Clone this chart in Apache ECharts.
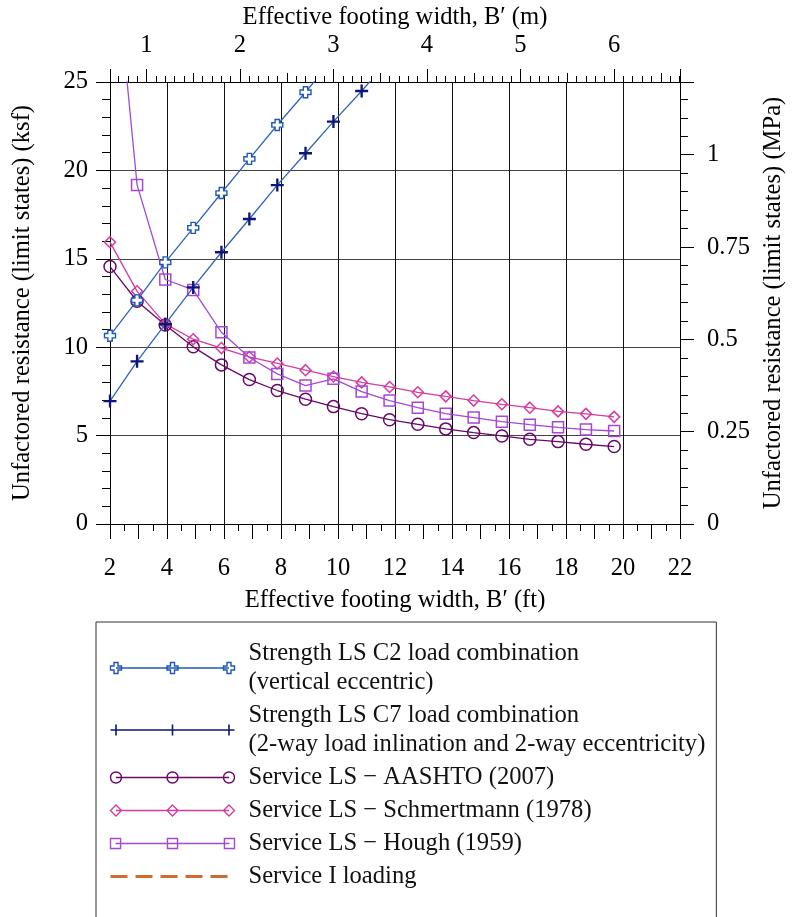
<!DOCTYPE html>
<html><head><meta charset="utf-8">
<script src="https://cdn.jsdelivr.net/npm/echarts@6/dist/echarts.min.js"></script>
<style>html,body{margin:0;padding:0;background:#fff}#c{width:807px;height:917px}</style>
</head><body><div id="c"></div>
<script>
// ---- data ----
// footing widths (ft): first point sits on the 2 ft axis, then ~0.3 m steps
const widthFt = [2.00, 2.95, 3.94, 4.92, 5.91, 6.89, 7.87, 8.86, 9.84, 10.83,
                 11.81, 12.80, 13.78, 14.76, 15.75, 16.73, 17.72, 18.70, 19.69];
const seriesNames = [
  'Strength LS C2 load combination\n(vertical eccentric)',
  'Strength LS C7 load combination\n(2-way load inlination and 2-way eccentricity)',
  'Service LS \u2212 AASHTO (2007)',
  'Service LS \u2212 Schmertmann (1978)',
  'Service LS \u2212 Hough (1959)',
  'Service I loading'
];
const strengthC2 = [10.65, 12.65, 14.80, 16.75, 18.72, 20.65, 22.57, 24.42, 26.35];
const strengthC7 = [6.95, 9.20, 11.30, 13.38, 15.37, 17.25, 19.17, 20.97, 22.76, 24.49, 26.30];
const serviceAashto = [14.56, 12.60, 11.26, 10.02, 9.00, 8.17, 7.55, 7.06, 6.64, 6.24,
                       5.90, 5.64, 5.38, 5.17, 4.98, 4.79, 4.66, 4.51, 4.38];
const serviceSchmertmann = [15.94, 13.16, 11.32, 10.45, 9.95, 9.45, 9.08, 8.70, 8.34, 8.01,
                            7.75, 7.45, 7.22, 6.98, 6.77, 6.58, 6.37, 6.23, 6.06];
const serviceHough = [35.0, 19.18, 13.83, 13.24, 10.84, 9.42, 8.49, 7.83, 8.21, 7.49,
                      6.98, 6.58, 6.24, 6.02, 5.79, 5.62, 5.47, 5.34, 5.26];
const serviceI = [];
// axis ranges
const xRangeFt = [2, 22];
const yRangeKsf = [0, 25];
const FT_PER_M = 3.28084;
const KSF_PER_MPA = 20.8854;

// ---- styling ----
const FONT = "'Liberation Serif', 'Times New Roman', serif";
const FS = 24.6;
const C2_COL = '#1f58b5', C2_LINE = '#2f64ba';
const C7_COL = '#0d1577', C7_LINE = '#2f64ba';
const AA_COL = '#680868';
const SC_COL = '#d43c9e';
const HO_COL = '#a448d8';
const SI_COL = '#d2692e';

function pairs(vals) { return vals.map((v, i) => [widthFt[i], v]); }

const centers = [5.5, 62, 118.5];
function iconPath(mark, filledLine) {
  let p = filledLine ? 'M5.5,4.85H118.5V6.15H5.5Z' : 'M5.5,5.5H118.5';
  centers.forEach(c => { p += mark(c); });
  return 'path://' + p;
}
const gcross = c => `M${c-2},0H${c+2}V3.5H${c+5.5}V7.5H${c+2}V11H${c-2}V7.5H${c-5.5}V3.5H${c-2}Z`;
const plus = c => `M${c-0.8},0H${c+0.8}V4.7H${c+5.5}V6.3H${c+0.8}V11H${c-0.8}V6.3H${c-5.5}V4.7H${c-0.8}Z`;
const circ = c => `M${c-5.5},5.5A5.5,5.5,0,1,0,${c+5.5},5.5A5.5,5.5,0,1,0,${c-5.5},5.5`;
const diam = c => `M${c-5.5},5.5L${c},0L${c+5.5},5.5L${c},11Z`;
const sq = c => `M${c-5},0.5H${c+5}V10.5H${c-5}Z`;

const clear = 'rgba(0,0,0,0)';
const axisLbl = {fontFamily: FONT, fontSize: FS, color: '#000'};
const nameTxt = {fontFamily: FONT, fontSize: FS, color: '#000'};
const blackLine = {lineStyle: {color: '#000', width: 1}};

const chart = echarts.init(document.getElementById('c'), null, {renderer: 'canvas'});
chart.setOption({
  animation: false,
  backgroundColor: '#fff',
  grid: {left: 110, top: 82, width: 570, height: 442, containLabel: false},
  xAxis: [
    { // bottom: labels + grid
      type: 'value', position: 'bottom', min: xRangeFt[0], max: xRangeFt[1], interval: 2,
      axisLine: blackLine, axisTick: {show: false},
      axisLabel: Object.assign({margin: 32}, axisLbl),
      splitLine: {show: true, lineStyle: {color: '#111', width: 1}},
      name: 'Effective footing width, B\u2032 (ft)', nameLocation: 'middle', nameGap: 64,
      nameTextStyle: nameTxt
    },
    { // bottom: ticks every 1 ft, minor every 0.5 ft
      type: 'value', position: 'bottom', min: xRangeFt[0], max: xRangeFt[1], interval: 1,
      axisLine: {show: false}, axisLabel: {show: false}, splitLine: {show: false},
      axisTick: {show: true, length: 15, lineStyle: {color: '#000'}},
      minorTick: {show: true, splitNumber: 2, length: 7, lineStyle: {color: '#000'}}
    },
    { // top: metres
      type: 'value', position: 'top', min: xRangeFt[0] / FT_PER_M, max: xRangeFt[1] / FT_PER_M,
      splitNumber: 6, minInterval: 1, maxInterval: 1,
      axisLine: blackLine,
      axisTick: {show: true, length: 13, lineStyle: {color: '#000'}},
      minorTick: {show: true, splitNumber: 10, length: 6, lineStyle: {color: '#000'}},
      axisLabel: Object.assign({margin: 24, showMinLabel: false, showMaxLabel: false}, axisLbl),
      splitLine: {show: false},
      name: 'Effective footing width, B\u2032 (m)', nameLocation: 'middle', nameGap: 52,
      nameTextStyle: nameTxt
    },
    { // top: half-metre ticks
      type: 'value', position: 'top', min: xRangeFt[0] / FT_PER_M, max: xRangeFt[1] / FT_PER_M,
      splitNumber: 12, minInterval: 0.5, maxInterval: 0.5,
      axisLine: {show: false}, axisLabel: {show: false}, splitLine: {show: false},
      axisTick: {show: true, length: 9, lineStyle: {color: '#000'}}
    }
  ],
  yAxis: [
    {
      type: 'value', position: 'left', min: yRangeKsf[0], max: yRangeKsf[1], interval: 5,
      axisLine: blackLine,
      axisTick: {show: true, length: 14, lineStyle: {color: '#000'}},
      minorTick: {show: true, splitNumber: 5, length: 8, lineStyle: {color: '#000'}},
      axisLabel: Object.assign({margin: 22}, axisLbl),
      splitLine: {show: true, lineStyle: {color: '#444', width: 1}},
      name: 'Unfactored resistance (limit states) (ksf)', nameLocation: 'middle', nameGap: 75,
      nameTextStyle: nameTxt
    },
    {
      type: 'value', position: 'right', min: yRangeKsf[0] / KSF_PER_MPA, max: yRangeKsf[1] / KSF_PER_MPA,
      interval: 0.25,
      axisLine: blackLine,
      axisTick: {show: true, length: 14, lineStyle: {color: '#000'}},
      minorTick: {show: true, splitNumber: 5, length: 8, lineStyle: {color: '#000'}},
      axisLabel: Object.assign({margin: 27, showMaxLabel: false}, axisLbl),
      splitLine: {show: false},
      name: 'Unfactored resistance (limit states) (MPa)', nameLocation: 'middle', nameGap: 78,
      nameTextStyle: nameTxt
    }
  ],
  legend: {
    orient: 'vertical', left: 96, top: 622, height: 420,
    padding: [17, 11, 40, 13],
    itemWidth: 124, itemHeight: 11, itemGap: 4,
    borderColor: '#333', borderWidth: 1,
    textStyle: {fontFamily: FONT, fontSize: FS, color: '#111', lineHeight: 29, padding: [0, 0, 0, 9]},
    data: [
      {name: seriesNames[0], icon: iconPath(gcross, false),
       itemStyle: {color: '#fff', borderColor: C2_COL, borderWidth: 1.4}},
      {name: seriesNames[1], icon: iconPath(plus, true),
       itemStyle: {color: C7_COL, borderColor: C7_COL, borderWidth: 0}},
      {name: seriesNames[2], icon: iconPath(circ, false),
       itemStyle: {color: clear, borderColor: AA_COL, borderWidth: 1.4}},
      {name: seriesNames[3], icon: iconPath(diam, false),
       itemStyle: {color: clear, borderColor: SC_COL, borderWidth: 1.4}},
      {name: seriesNames[4], icon: iconPath(sq, false),
       itemStyle: {color: clear, borderColor: HO_COL, borderWidth: 1.4}},
      {name: seriesNames[5],
       itemStyle: {color: clear, borderColor: clear, borderWidth: 0},
       lineStyle: {color: SI_COL, width: 3, type: [17, 8]}}
    ]
  },
  series: [
    {name: seriesNames[0], type: 'line', z: 5, data: pairs(strengthC2),
     symbol: 'path://M3,0H7V3H10V7H7V10H3V7H0V3H3Z', symbolSize: 11,
     itemStyle: {color: '#fff', borderColor: C2_COL, borderWidth: 1.4},
     lineStyle: {color: C2_LINE, width: 1.3}},
    {name: seriesNames[1], type: 'line', z: 5, data: pairs(strengthC7),
     symbol: 'path://M4.1,0H5.9V4.1H10V5.9H5.9V10H4.1V5.9H0V4.1H4.1Z', symbolSize: 13,
     itemStyle: {color: C7_COL},
     lineStyle: {color: C7_LINE, width: 1.3}},
    {name: seriesNames[2], type: 'line', z: 3, data: pairs(serviceAashto),
     symbol: 'circle', symbolSize: 12,
     itemStyle: {color: clear, borderColor: AA_COL, borderWidth: 1.5},
     lineStyle: {color: AA_COL, width: 1.3}},
    {name: seriesNames[3], type: 'line', z: 3, data: pairs(serviceSchmertmann),
     symbol: 'diamond', symbolSize: 11,
     itemStyle: {color: clear, borderColor: SC_COL, borderWidth: 1.5},
     lineStyle: {color: SC_COL, width: 1.3}},
    {name: seriesNames[4], type: 'line', z: 3, data: pairs(serviceHough),
     symbol: 'rect', symbolSize: 11,
     itemStyle: {color: clear, borderColor: HO_COL, borderWidth: 1.5},
     lineStyle: {color: HO_COL, width: 1.3}},
    {name: seriesNames[5], type: 'line', z: 3, data: serviceI, symbol: 'none',
     lineStyle: {color: SI_COL, width: 3, type: [17, 8]}}
  ]
});
</script></body></html>
